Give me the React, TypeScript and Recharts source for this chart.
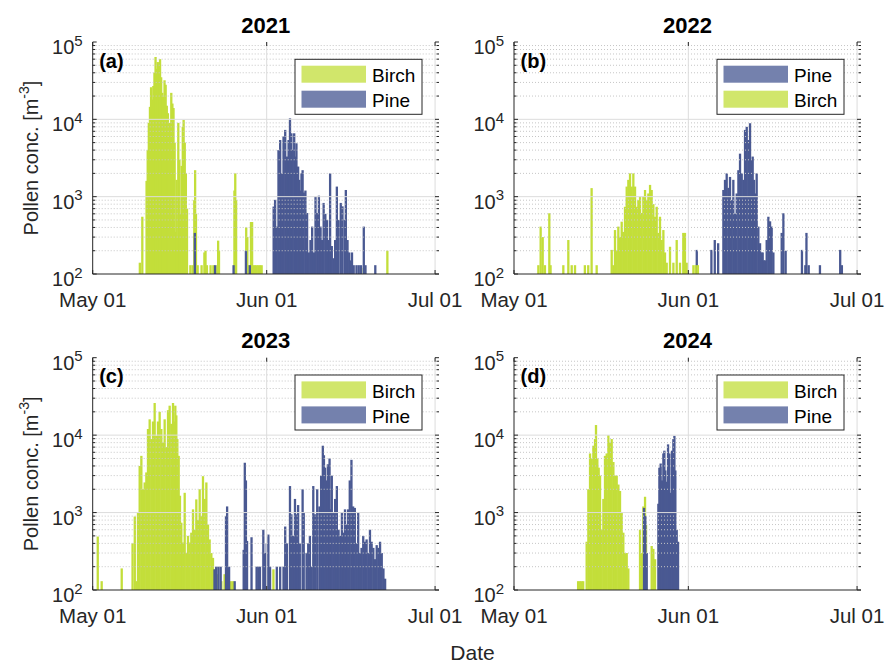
import { ComposedChart, Bar, XAxis, YAxis, ReferenceLine } from 'recharts'

type Pt = [number, number]

const BIRCH_2021: Pt[] = [
  [8.4, 140], [8.84, 550],
  [9.6, 1600], [9.8, 4000], [10.0, 9000], [10.2, 14500], [10.4, 26000], [10.6, 18000], [10.8, 27000], [11.0, 40000],
  [11.2, 64000], [11.4, 45000], [11.6, 55000], [11.8, 48000], [12.0, 60000], [12.2, 35000], [12.4, 22000], [12.6, 19500],
  [12.8, 32000], [13.0, 28000], [13.2, 15000], [13.4, 12000], [13.6, 5400], [13.8, 9000], [14.0, 22000], [14.2, 16000],
  [14.4, 14000], [14.6, 5000], [14.8, 350], [14.95, 1650], [15.1, 300], [15.25, 9000], [15.45, 3000], [15.65, 600],
  [15.85, 2500], [16.05, 8000], [16.2, 9800], [16.4, 5000], [16.6, 2000], [16.8, 700],
  [17.4, 130], [17.8, 130], [18.1, 900], [18.25, 2200], [18.4, 600], [18.7, 130], [19.4, 130], [19.9, 190], [20.1, 200],
  [20.35, 130], [21.0, 130], [21.5, 130], [22.2, 130], [22.35, 270], [22.5, 200], [25.25, 1200], [25.4, 2000], [25.55, 900],
  [27.35, 400], [27.55, 300], [27.75, 130], [28.2, 470], [28.4, 470], [28.6, 130], [28.9, 130], [29.2, 130], [29.5, 130],
  [29.8, 130], [30.1, 130], [48.3, 120], [52.5, 200],
]
const PINE_2021: Pt[] = [
  [18.2, 340], [21.8, 130], [25.1, 130], [27.3, 200], [28.0, 130],
  [32.24, 745], [32.5, 910], [32.8, 410], [33.1, 4000], [33.4, 5400], [33.7, 2000], [34.0, 6000], [34.3, 7300], [34.6, 3300],
  [34.9, 5400], [35.15, 10300], [35.4, 6600], [35.6, 4000], [35.9, 6600], [36.1, 3300], [36.3, 4900], [36.6, 2450],
  [36.8, 1650], [37.0, 1200], [37.2, 2000], [37.4, 2200], [37.6, 1130], [37.9, 1200], [38.2, 615], [38.5, 190], [38.8, 275],
  [39.1, 410], [39.4, 190], [39.7, 1000], [40.0, 615], [40.3, 1030], [40.6, 410], [40.85, 275], [41.15, 830], [41.45, 600],
  [41.75, 500], [42.0, 275], [42.3, 2000], [42.6, 230], [42.9, 160], [43.2, 275], [43.5, 1350], [43.8, 500], [44.2, 830],
  [44.5, 750], [44.9, 500], [45.1, 1220], [45.4, 275], [45.7, 190], [45.9, 150], [46.2, 190], [46.5, 130],
  [47.0, 130], [47.4, 130], [47.8, 130], [48.3, 410], [48.6, 130], [50.35, 130],
]
const BIRCH_2022: Pt[] = [
  [4.33, 130], [4.74, 410], [5.1, 300], [5.5, 130], [6.28, 610], [6.5, 130], [8.77, 130], [9.66, 275], [10.26, 130],
  [10.85, 130], [12.6, 130], [13.2, 130], [13.8, 1290], [14.7, 130], [17.37, 205], [17.66, 130],
  [17.96, 370], [18.26, 200], [18.55, 410], [18.85, 300], [19.15, 475], [19.44, 350], [19.74, 740], [20.04, 1350],
  [20.33, 1650], [20.63, 2000], [20.93, 1350], [21.22, 2000], [21.52, 1350], [21.82, 740], [22.11, 900], [22.41, 1000],
  [22.7, 615], [23.0, 1000], [23.3, 1220], [23.6, 900], [23.89, 1100], [24.19, 1420], [24.48, 1220], [24.78, 800],
  [25.08, 550], [25.37, 740], [25.67, 340], [25.96, 550], [26.26, 275], [26.56, 370], [26.85, 190], [27.15, 140],
  [27.74, 225], [28.34, 140], [28.93, 275], [29.52, 140], [30.1, 340], [30.4, 340], [30.71, 140],
  [31.9, 130], [32.3, 130], [32.7, 130],
]
const PINE_2022: Pt[] = [
  [32.5, 205], [35.1, 205], [35.7, 275], [36.3, 250],
  [37.23, 1220], [37.52, 1650], [37.82, 2000], [38.12, 1300], [38.41, 1800], [38.71, 900], [39.0, 1650], [39.3, 600],
  [39.6, 1100], [39.9, 2200], [40.19, 3600], [40.49, 2000], [40.78, 1650], [41.08, 7300], [41.38, 8000], [41.67, 5400],
  [41.97, 8900], [42.15, 3000], [42.44, 3300], [42.68, 1650], [42.92, 1100], [43.15, 2000], [43.45, 410], [43.75, 250],
  [44.0, 190], [44.22, 190], [44.45, 150], [44.64, 150], [44.93, 275], [45.23, 550], [45.53, 480], [45.82, 410], [46.12, 190],
  [47.6, 340], [47.9, 610], [48.3, 200], [51.2, 205], [51.8, 130], [52.0, 340], [52.4, 130], [54.4, 130], [58.0, 205], [58.3, 130],
]
const BIRCH_2023: Pt[] = [
  [0.9, 490], [1.6, 130], [5.17, 190], [7.1, 400], [7.5, 890], [7.8, 130],
  [8.07, 1000], [8.37, 4000], [8.67, 5400], [8.96, 2000], [9.26, 2450], [9.56, 3300], [9.85, 12000], [10.15, 16000],
  [10.45, 8900], [10.74, 15000], [11.04, 26000], [11.34, 9800], [11.63, 15000], [11.93, 20000], [12.23, 12000], [12.53, 8000],
  [12.82, 16000], [13.12, 7000], [13.42, 21000], [13.71, 24000], [14.01, 14000], [14.31, 26000], [14.49, 15000], [14.72, 24000],
  [14.9, 18000], [15.08, 8900], [15.32, 5400], [15.55, 1650], [15.79, 740], [16.09, 410], [16.39, 1800], [16.68, 300],
  [16.98, 500], [17.28, 410], [17.57, 550], [17.87, 1100], [18.17, 600], [18.46, 1480], [18.76, 800], [19.06, 2000],
  [19.36, 900], [19.65, 2950], [19.95, 1500], [20.25, 2450], [20.54, 700], [20.84, 450], [21.14, 300], [21.43, 260],
  [21.73, 185], [22.3, 160], [22.92, 130], [23.5, 160], [24.1, 130], [24.6, 130], [25.0, 130], [32.2, 185],
]
const PINE_2023: Pt[] = [
  [21.7, 185], [22.0, 200], [22.4, 200], [22.8, 200], [23.75, 900], [23.95, 1200], [24.3, 200], [25.3, 130], [26.9, 330],
  [27.1, 4400], [27.3, 2600], [27.5, 430], [28.3, 480], [29.2, 200], [29.5, 200], [29.8, 200], [30.4, 600], [30.7, 300],
  [31.0, 400], [31.3, 520], [31.6, 200], [32.8, 200], [33.4, 200], [34.0, 200], [34.3, 660], [34.6, 400], [35.15, 2200],
  [35.4, 950], [35.7, 500], [36.04, 1500], [36.3, 950], [36.6, 1250], [36.9, 400], [37.4, 2000], [37.6, 1000], [38.1, 300],
  [38.4, 400], [38.7, 500], [39.0, 200], [39.3, 2200], [39.6, 950], [40.0, 2000], [40.4, 1200], [40.7, 3000], [41.0, 7300],
  [41.2, 5500], [41.4, 3800], [41.7, 2600], [41.9, 4200], [42.2, 5000], [42.4, 1100], [42.6, 3000], [42.9, 1000],
  [43.2, 1500], [43.5, 2200], [43.8, 600], [44.1, 500], [44.4, 1000], [44.65, 550], [44.95, 1100], [45.25, 700],
  [45.5, 1100], [45.8, 2600], [46.1, 4800], [46.4, 1200], [46.7, 1150], [47.0, 400], [47.3, 1000], [47.6, 300],
  [47.9, 350], [48.2, 500], [48.5, 420], [48.8, 450], [49.1, 300], [49.4, 600], [49.7, 420], [50.0, 350], [50.3, 250],
  [50.6, 380], [50.9, 350], [51.2, 420], [51.5, 300], [51.8, 190], [52.1, 140],
]
const BIRCH_2024: Pt[] = [
  [11.4, 130], [11.7, 130], [12.0, 130], [12.3, 130],
  [12.92, 420], [13.22, 2000], [13.52, 5800], [13.81, 5000], [14.11, 7300], [14.41, 8900], [14.58, 13500], [14.82, 5000],
  [15.06, 3800], [15.3, 3000], [15.59, 600], [15.89, 1500], [16.18, 5400], [16.48, 5800], [16.78, 10000], [17.07, 8000],
  [17.37, 8900], [17.67, 4500], [17.96, 3000], [18.26, 3000], [18.56, 2300], [18.85, 1900], [19.15, 1000], [19.44, 550],
  [19.74, 300], [20.04, 300], [20.33, 190],
  [22.41, 600], [22.7, 300], [23.0, 1200], [23.3, 1600], [23.48, 700], [24.48, 370], [24.78, 340], [25.08, 250],
]
const PINE_2024: Pt[] = [
  [23.12, 1150], [23.36, 900], [23.6, 300],
  [25.67, 1300], [25.85, 3800], [26.08, 4300], [26.32, 2600], [26.56, 5800], [26.74, 6300], [26.91, 3500], [27.15, 2500],
  [27.39, 7600], [27.63, 5800], [27.86, 1800], [28.1, 6300], [28.34, 8900], [28.52, 9800], [28.69, 3500], [28.93, 600], [29.17, 420],
]

const DATE_TICKS = [0, 31, 61]
const DATE_LABELS = ['May 01', 'Jun 01', 'Jul 01']
const DECADES = [100, 1000, 10000, 100000]
const MINOR = [
  200, 300, 400, 500, 600, 700, 800, 900,
  2000, 3000, 4000, 5000, 6000, 7000, 8000, 9000,
  20000, 30000, 40000, 50000, 60000, 70000, 80000, 90000,
]
const Y_TICKS = [...DECADES, ...MINOR].sort((a, b) => a - b)
const X_MAX = 61.7

const PANELS = [
  { year: '2021', letter: '(a)', birch: BIRCH_2021, pine: PINE_2021, order: ['Birch', 'Pine'] },
  { year: '2022', letter: '(b)', birch: BIRCH_2022, pine: PINE_2022, order: ['Pine', 'Birch'] },
  { year: '2023', letter: '(c)', birch: BIRCH_2023, pine: PINE_2023, order: ['Birch', 'Pine'] },
  { year: '2024', letter: '(d)', birch: BIRCH_2024, pine: PINE_2024, order: ['Birch', 'Pine'] },
]

const FONT = "'Liberation Sans', Arial, Helvetica, sans-serif"
const AXIS = '#262626'
const GRID = '#dcdcdc'
const MINOR_GRID = '#c6c6c6'
const FILL: Record<string, string> = { Birch: '#c3de3a', Pine: '#4a5992' }
const PATCH: Record<string, string> = { Birch: '#d1e66b', Pine: '#7481ad' }
const BAR_W = 2.3

const Y_AXIS_W = 60
const X_AXIS_H = 30
const COLS = [
  { left: 0, width: 470, marginLeft: 32.7, marginRight: 31 },
  { left: 440, width: 445, marginLeft: 14, marginRight: 24 },
]
const ROWS = [
  { top: 0, height: 320, marginTop: 42, marginBottom: 16 },
  { top: 320, height: 343, marginTop: 37.7, marginBottom: 43 },
]

function geom(i: number) {
  const c = COLS[i % 2]
  const r = ROWS[Math.floor(i / 2)]
  const left = c.marginLeft + Y_AXIS_W
  const right = c.width - c.marginRight
  const top = r.marginTop
  const bottom = r.height - r.marginBottom - X_AXIS_H
  return { c, r, left, right, top, bottom }
}

const xTick = (top: number, bottom: number) => (p: any) => {
  const i = DATE_TICKS.indexOf(p.payload.value)
  return (
    <g>
      <line x1={p.x} x2={p.x} y1={bottom} y2={bottom - 4} stroke={AXIS} />
      <line x1={p.x} x2={p.x} y1={top} y2={top + 4} stroke={AXIS} />
      <text x={p.x} y={bottom + 33} textAnchor="middle" fontSize={20.5} fill={AXIS} fontFamily={FONT}>
        {DATE_LABELS[i]}
      </text>
    </g>
  )
}

const yTick = (left: number, right: number) => (p: any) => {
  const v = p.payload.value
  const major = DECADES.includes(v)
  const len = major ? 4 : 2.5
  return (
    <g>
      <line x1={left} x2={left + len} y1={p.y} y2={p.y} stroke={AXIS} />
      <line x1={right} x2={right - len} y1={p.y} y2={p.y} stroke={AXIS} />
      {major && (
        <text x={left - 10} y={p.y + 12} textAnchor="end" fontSize={20} fill={AXIS} fontFamily={FONT}>
          <tspan>10</tspan>
          <tspan dy={-8.5} fontSize={15}>{Math.round(Math.log10(v))}</tspan>
        </text>
      )}
    </g>
  )
}

// thin fixed-width spike centred on the bar's slot
const Spike = (p: any) => {
  if (!p.height || !(p.height > 0)) return <g />
  return <rect x={p.x + p.width / 2 - BAR_W / 2} y={p.y} width={BAR_W} height={p.height} fill={p.fill} />
}

function Panel({ index }: { index: number }) {
  const p = PANELS[index]
  const g = geom(index)
  const data = [
    ...p.birch.map(([day, v]) => ({ day, birch: v })),
    ...p.pine.map(([day, v]) => ({ day, pine: v })),
  ]
  return (
    <div style={{ position: 'absolute', left: g.c.left, top: g.r.top }}>
      <ComposedChart
        width={g.c.width}
        height={g.r.height}
        data={data}
        margin={{ top: g.r.marginTop, right: g.c.marginRight, bottom: g.r.marginBottom, left: g.c.marginLeft }}
      >
        <XAxis xAxisId={0} dataKey="day" type="number" domain={[0, X_MAX]} allowDataOverflow ticks={DATE_TICKS}
          interval={0} height={X_AXIS_H} tickLine={false} axisLine={{ stroke: AXIS }} tick={xTick(g.top, g.bottom)} />
        <XAxis xAxisId="t" orientation="top" dataKey="day" type="number" domain={[0, X_MAX]} allowDataOverflow
          height={0} tick={false} tickLine={false} axisLine={{ stroke: AXIS }} />
        <YAxis yAxisId={0} type="number" scale="log" domain={[100, 100000]} allowDataOverflow ticks={Y_TICKS}
          interval={0} width={Y_AXIS_W} tickLine={false} axisLine={{ stroke: AXIS }} tick={yTick(g.left, g.right)} />
        <YAxis yAxisId="r" orientation="right" type="number" scale="log" domain={[100, 100000]} allowDataOverflow
          width={0} tick={false} tickLine={false} axisLine={{ stroke: AXIS }} />
        {MINOR.map((v) => (
          <ReferenceLine key={v} y={v} stroke={MINOR_GRID} strokeDasharray="1 2" />
        ))}
        {[1000, 10000].map((v) => (
          <ReferenceLine key={v} y={v} stroke={GRID} />
        ))}
        {[31, 61].map((d) => (
          <ReferenceLine key={d} x={d} stroke={GRID} />
        ))}
        {p.order.map((name) => (
          <Bar
            key={name}
            dataKey={name.toLowerCase()}
            xAxisId={name === 'Birch' ? 0 : 't'}
            fill={FILL[name]}
            shape={Spike}
            isAnimationActive={false}
          />
        ))}
      </ComposedChart>
    </div>
  )
}

function Overlay() {
  return (
    <svg width={885} height={663} style={{ position: 'absolute', left: 0, top: 0, pointerEvents: 'none' }} fontFamily={FONT}>
      {PANELS.map((p, i) => {
        const g = geom(i)
        const L = g.c.left + g.left
        const R = g.c.left + g.right
        const T = g.r.top + g.top
        const B = g.r.top + g.bottom
        const lx = R - 17 - 127
        const ly = T + 17.3
        return (
          <g key={p.year}>
            <text x={(L + R) / 2} y={T - 9.5} textAnchor="middle" fontSize={22} fontWeight="bold" fill="#000">{p.year}</text>
            <text x={L + 6.5} y={T + 25.7} fontSize={20} fontWeight="bold" fill="#000">{p.letter}</text>
            <rect x={lx} y={ly} width={127} height={55} fill="#fff" stroke={AXIS} strokeWidth={1} />
            {p.order.map((name, k) => (
              <g key={name}>
                <rect x={lx + 6.5} y={ly + 6.4 + k * 25} width={64.5} height={17} fill={PATCH[name]} />
                <text x={lx + 77} y={ly + 22.8 + k * 25} fontSize={19} fill="#000">{name}</text>
              </g>
            ))}
            {i % 2 === 0 && (
              <text transform={`translate(37.5, ${(T + B) / 2}) rotate(-90)`} textAnchor="middle" fontSize={20} fill={AXIS}>
                Pollen conc. [m<tspan dy={-8.5} fontSize={14}>-3</tspan><tspan dy={8.5}>]</tspan>
              </text>
            )}
          </g>
        )
      })}
      <text x={472.5} y={660} textAnchor="middle" fontSize={21} fill={AXIS}>Date</text>
    </svg>
  )
}

export default function App() {
  return (
    <div style={{ position: 'absolute', left: 0, top: 0, width: 885, height: 663, background: '#fff', fontFamily: FONT }}>
      {PANELS.map((p, i) => (
        <Panel key={p.year} index={i} />
      ))}
      <Overlay />
    </div>
  )
}
